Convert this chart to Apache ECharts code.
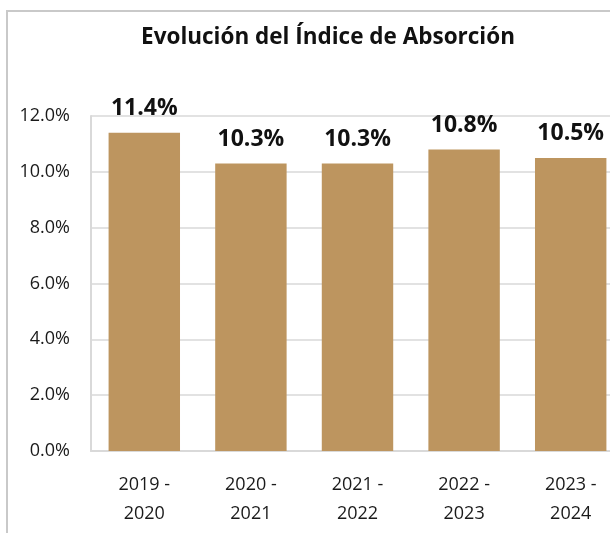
<!DOCTYPE html>
<html>
<head>
<meta charset="utf-8">
<script src="https://cdn.jsdelivr.net/npm/echarts@6/dist/echarts.min.js"></script>
<style>
  html, body { margin: 0; padding: 0; background: #fff; overflow: hidden; }
  #chart { width: 624px; height: 533px; }
</style>
</head>
<body>
<div id="chart"></div>
<script>
// Periodos y valores del índice de absorción (%)
const categories = ['2019 -\n2020', '2020 -\n2021', '2021 -\n2022', '2022 -\n2023', '2023 -\n2024'];
const absorcion = [11.4, 10.3, 10.3, 10.8, 10.5];
const yTicks = { min: 0, max: 12, interval: 2 };

const chart = echarts.init(document.getElementById('chart'));

const font = '"Open Sans", "Noto Sans", sans-serif';

chart.setOption({
    backgroundColor: '#fff',
    animation: false,
    title: {
        text: 'Evolución del Índice de Absorción',
        left: 323,
        top: 21,
        textAlign: 'center',
        textStyle: {
            fontFamily: font,
            fontSize: 22.5,
            fontWeight: 'bold',
            color: '#111'
        }
    },
    // marco exterior del gráfico
    graphic: [{
        type: 'rect',
        shape: { x: 7, y: 11, width: 640, height: 560 },
        style: { fill: 'none', stroke: '#c9c9c9', lineWidth: 2 },
        silent: true
    }],
    grid: {
        left: 91,
        right: 0,
        top: 116,
        bottom: 82
    },
    xAxis: {
        type: 'category',
        data: categories,
        axisTick: { show: false },
        axisLine: { lineStyle: { color: '#d9d9d9', width: 2 } },
        axisLabel: {
            fontFamily: font,
            fontSize: 18,
            color: '#1a1a1a',
            lineHeight: 29,
            margin: 19
        }
    },
    yAxis: {
        type: 'value',
        min: yTicks.min,
        max: yTicks.max,
        interval: yTicks.interval,
        axisLine: { show: true, lineStyle: { color: '#d9d9d9', width: 2 } },
        axisTick: { show: false },
        splitLine: { lineStyle: { color: '#d9d9d9', width: 1.5 } },
        axisLabel: {
            fontFamily: font,
            fontSize: 18,
            color: '#1a1a1a',
            margin: 21,
            formatter: v => v.toFixed(1) + '%'
        }
    },
    series: [{
        type: 'bar',
        data: absorcion,
        barCategoryGap: '33%',
        itemStyle: { color: '#bd955f' },
        label: {
            show: true,
            position: 'top',
            distance: 13,
            fontFamily: font,
            fontSize: 23,
            fontWeight: 'bold',
            color: '#111',
            formatter: p => p.value.toFixed(1) + '%'
        }
    }]
});
</script>
</body>
</html>
